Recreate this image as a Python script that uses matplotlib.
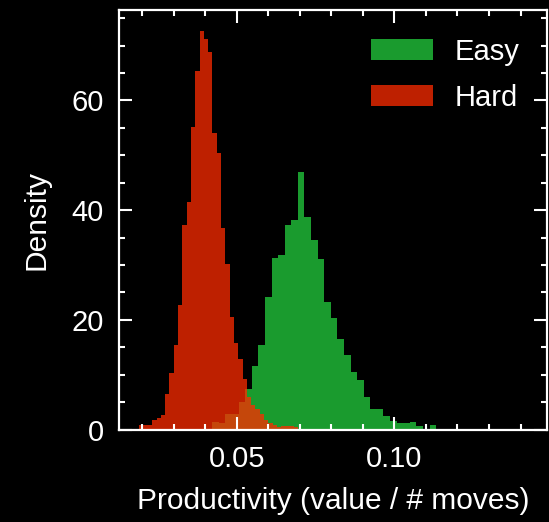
import numpy as np
import matplotlib
matplotlib.use("Agg")
import matplotlib.pyplot as plt
from matplotlib.ticker import MultipleLocator

# Histogram (density) values
easy_start = 0.04223      # left edge of first Easy bin
easy_width = 0.002088
easy_density = [1.45, 1.2, 2.85, 2.85, 5.1, 7.4, 11.5, 15.4, 24.1, 31.3,
                31.8, 37.3, 38.2, 46.9, 38.8, 34.5, 31.1, 23.2, 20.3, 16.5,
                13.5, 10.5, 9.0, 6.0, 3.7, 3.7, 2.4, 1.6, 1.15, 1.15,
                1.33, 0.6, 0.0, 0.9]

hard_start = 0.01910      # left edge of first Hard bin
hard_width = 0.001364
hard_density = [0.73, 0.85, 0.73, 1.76, 2.07, 2.73, 6.5, 10.3, 15.4, 22.7,
                37.3, 41.5, 55.2, 65.3, 72.7, 71.3, 68.9, 54.1, 50.5, 36.8,
                30.1, 20.5, 15.8, 12.8, 9.3, 6.0, 4.5, 3.8, 2.8, 1.8,
                1.2, 0.9, 0.5, 0.55, 0.55, 0.55, 0.4]

labels = ["Easy", "Hard"]
x_ticks = [0.05, 0.10]
x_ticklabels = ["0.05", "0.10"]
y_ticks = [0, 20, 40, 60]

plt.rcParams["font.family"] = ["Liberation Sans", "DejaVu Sans"]

fig = plt.figure(figsize=(5.49, 5.22), dpi=100, facecolor="black")
ax = fig.add_axes([0.2168, 0.1772, 0.7796, 0.8036], facecolor="black")

easy_edges = easy_start + easy_width * np.arange(len(easy_density) + 1)
hard_edges = hard_start + hard_width * np.arange(len(hard_density) + 1)

ax.stairs(easy_density, easy_edges, fill=True, color="#1a9b2e", lw=0, label=labels[0])
ax.stairs(hard_density, hard_edges, fill=True, color="#ff2b00", alpha=0.75, lw=0, label=labels[1])

ax.set_xlim(0.01266, 0.1484)
ax.set_ylim(0, 76.5)

ax.set_xticks(x_ticks)
ax.set_xticklabels(x_ticklabels)
ax.set_yticks(y_ticks)
ax.xaxis.set_minor_locator(MultipleLocator(0.01))
ax.yaxis.set_minor_locator(MultipleLocator(5))

for sp in ax.spines.values():
    sp.set_color("white")
    sp.set_linewidth(1.6)

ax.tick_params(which="both", direction="in", top=True, right=True, colors="white",
               width=1.5, labelsize=21, pad=11)
ax.tick_params(which="major", length=9.5)
ax.tick_params(which="minor", length=4)

ax.set_xlabel("Productivity (value / # moves)", color="white", fontsize=21.5, labelpad=10)
ax.set_ylabel("Density", color="white", fontsize=21.5, labelpad=15)

leg = ax.legend(loc="upper right", frameon=False, fontsize=21, handlelength=2.1,
                handleheight=0.72, handletextpad=0.75, labelspacing=0.62,
                labelcolor="white", borderaxespad=0.55)

fig.savefig("out.png", dpi=100, facecolor="black")
